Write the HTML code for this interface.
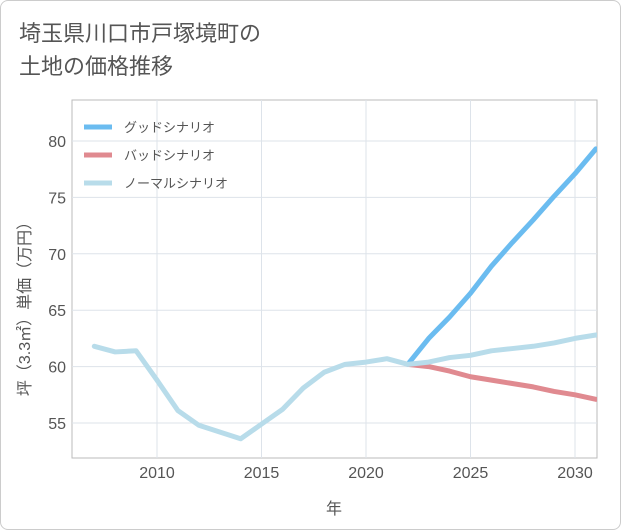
<!DOCTYPE html>
<html><head><meta charset="utf-8"><style>
body{margin:0;background:#fff;font-family:"Liberation Sans","Noto Sans CJK JP",sans-serif;}
#wrap{position:relative;width:619px;height:528px;border:1px solid #ccc;border-radius:8px;overflow:hidden;background:#fff}
#title{position:absolute;left:18px;top:16px;font-size:22px;line-height:33px;color:#555;font-family:"Liberation Sans","Noto Sans CJK JP",sans-serif;}
</style></head><body>
<div id="wrap">
<div id="title">埼玉県川口市戸塚境町の<br>土地の価格推移</div>
<svg id="chart" width="621" height="530" style="position:absolute;left:-1px;top:-1px"></svg>
</div>
<script>
const years=[2007,2008,2009,2010,2011,2012,2013,2014,2015,2016,2017,2018,2019,2020,2021,2022,2023,2024,2025,2026,2027,2028,2029,2030,2031];
const normalVals=[61.8,61.3,61.4,58.8,56.1,54.8,54.2,53.6,54.9,56.2,58.1,59.5,60.2,60.4,60.7,60.2,60.4,60.8,61.0,61.4,61.6,61.8,62.1,62.5,62.8];
const futureYears=[2022,2023,2024,2025,2026,2027,2028,2029,2030,2031];
const goodVals=[60.2,62.5,64.4,66.5,68.9,71.0,73.0,75.1,77.1,79.3];
const badVals=[60.2,60.0,59.6,59.1,58.8,58.5,58.2,57.8,57.5,57.1];
const xTicks=[2010,2015,2020,2025,2030];
const yTicks=[55,60,65,70,75,80];
const legendLabels=["グッドシナリオ","バッドシナリオ","ノーマルシナリオ"];
const L=72,R=597,T=100,B=458;
const x=v=>157+(v-2010)*20.9;
const y=v=>141+(80-v)*11.28;
const svg=document.getElementById('chart');
const NS='http://www.w3.org/2000/svg';
function mk(t,a){const e=document.createElementNS(NS,t);for(const k in a)e.setAttribute(k,a[k]);svg.appendChild(e);return e;}
let r=mk('rect',{x:L,y:T,width:R-L,height:B-T,fill:'#fff',stroke:'#bbb'});


xTicks.forEach(t=>{
 const g=mk('line',{x1:x(t),x2:x(t),y1:T,y2:B,stroke:'#dde3ea'});
 
 
 const tx=mk('text',{x:x(t),y:B+20,'text-anchor':'middle','font-size':16,fill:'#555'});
 tx.textContent=t;
 
 
});
yTicks.forEach(t=>{
 const g=mk('line',{x1:L,x2:R,y1:y(t),y2:y(t),stroke:'#dde3ea'});
 
 
 const tx=mk('text',{x:L-6,y:y(t)+6,'text-anchor':'end','font-size':16,fill:'#555'});
 tx.textContent=t;
 
 
});
let xt=mk('text',{x:334,y:514,'text-anchor':'middle','font-size':16,fill:'#555'});
xt.textContent='年';


let yt=mk('text',{x:0,y:0,'text-anchor':'middle','font-size':16,fill:'#555',transform:'translate(30,305) rotate(-90)'});
yt.textContent='坪（3.3㎡）単価（万円）';


function line(xs,vs,color,name){
 const p=mk('polyline',{points:xs.map((v,i)=>x(v)+','+y(vs[i])).join(' '),fill:'none',stroke:color,'stroke-width':5,'stroke-linejoin':'round','stroke-linecap':'round','clip-path':'url(#clip)'});
 
 
}
const defs=mk('defs',{});const cp=document.createElementNS(NS,'clipPath');cp.setAttribute('id','clip');
const cr=document.createElementNS(NS,'rect');cr.setAttribute('x',L);cr.setAttribute('y',T);cr.setAttribute('width',R-L);cr.setAttribute('height',B-T);cp.appendChild(cr);defs.appendChild(cp);
line(futureYears,badVals,'#e08a90','bad-scenario-line');
line(futureYears,goodVals,'#6bbcf0','good-scenario-line');
line(years,normalVals,'#b8dcea','normal-scenario-line');
const lc=['#6bbcf0','#e08a90','#b8dcea'];
legendLabels.forEach((lab,i)=>{
 const ly=127+i*28;
 const l=mk('line',{x1:84,x2:112,y1:ly,y2:ly,stroke:lc[i],'stroke-width':5});
 
 
 const t=mk('text',{x:124,y:ly+5,'font-size':13,fill:'#555'});
 t.textContent=lab;
 
 
});
</script>
</body></html>
